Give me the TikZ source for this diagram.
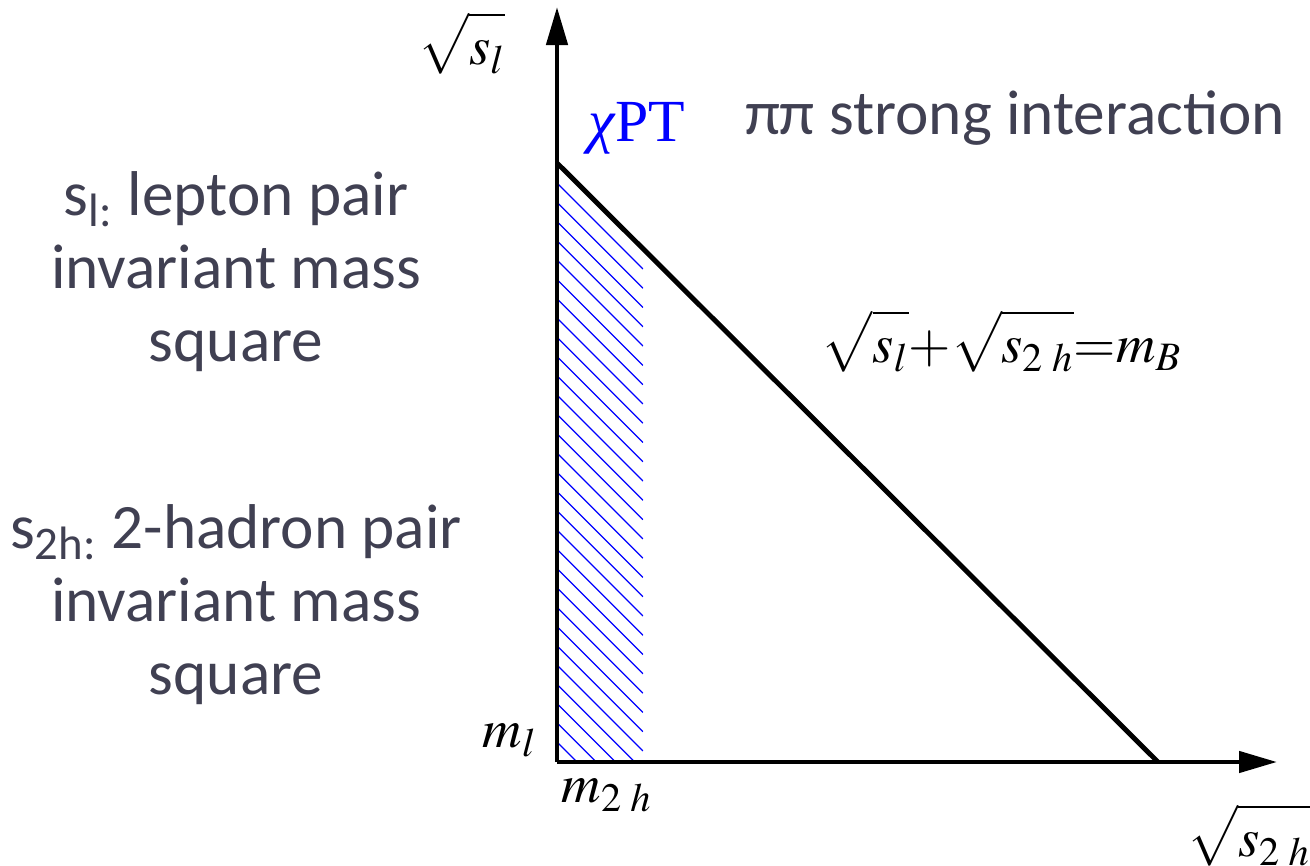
\documentclass[tikz,border=0pt]{standalone}
\usepackage{mathptmx}
\usepackage{exscale}
\usepackage[no-math]{fontspec}
\setmainfont{Carlito}
\newfontfamily\timesf{Liberation Serif}
\usetikzlibrary{arrows.meta}
\definecolor{slate}{RGB}{64,64,82}
\definecolor{chiblue}{RGB}{0,0,255}
\newcommand{\tallroot}[1]{\sqrt{\rule{0pt}{0.85em}#1}}
\tikzset{
  axis/.style={line width=1.3pt,-{Triangle[length=0.38cm,width=0.21cm]}},
  desc/.style={text=slate,align=center,font=\fontsize{18}{20.8}\selectfont},
  mlabel/.style={font=\fontsize{15.5}{18}\selectfont},
  hatch/.style={chiblue,line width=0.35pt}
}
\begin{document}
\begin{tikzpicture}
        \useasboundingbox (0,0) rectangle (13.1,8.65);
        \coordinate (O) at (5.57,1.03);
        \coordinate (ytip) at (5.57,8.58);
        \coordinate (xtip) at (12.77,1.03);
        \coordinate (A) at (5.57,7.02);
        \coordinate (E) at (11.58,1.03);
        % chiral region
        \begin{scope}
          \clip (5.57,1.03) rectangle (6.43,6.83);
          \foreach \k in {0,...,34}
            \draw[hatch] (5.57,6.82-\k*0.1928) -- ++(0.86,-0.86);
        \end{scope}
        \draw[axis] (O) -- (ytip);
        \draw[axis] (O) -- (xtip);
        \draw[line width=1.4pt] (A) -- (E);
        \node[mlabel,inner sep=1pt] (slbl) at (4.62,8.22) {$\tallroot{s_l}$};
        \node[mlabel,chiblue,font=\fontsize{17}{20}\selectfont] (chipt) at (6.37,7.37) {{\timesf\itshape χ}{\timesf PT}};
        \node[desc] (strong) at (10.15,7.47) {ππ strong interaction};
        \node[mlabel] (bound) at (10.02,5.24) {$\tallroot{s_l}{+}\tallroot{s_{2\;h}}{=}m_B$};
        \node[mlabel] (ml) at (5.10,1.25) {$m_l$};
        \node[mlabel] (mtwoh) at (6.07,0.70) {$m_{2\;h}$};
        \node[mlabel] (stwoh) at (12.49,0.30) {$\tallroot{s_{2\;h}}$};
        \node[desc] (descl) at (2.36,5.93) {s\textsubscript{l:} lepton pair\\invariant mass\\square};
        \node[desc] (desch) at (2.36,2.60) {s\textsubscript{2h:} 2-hadron pair\\invariant mass\\square};
\end{tikzpicture}
\end{document}
